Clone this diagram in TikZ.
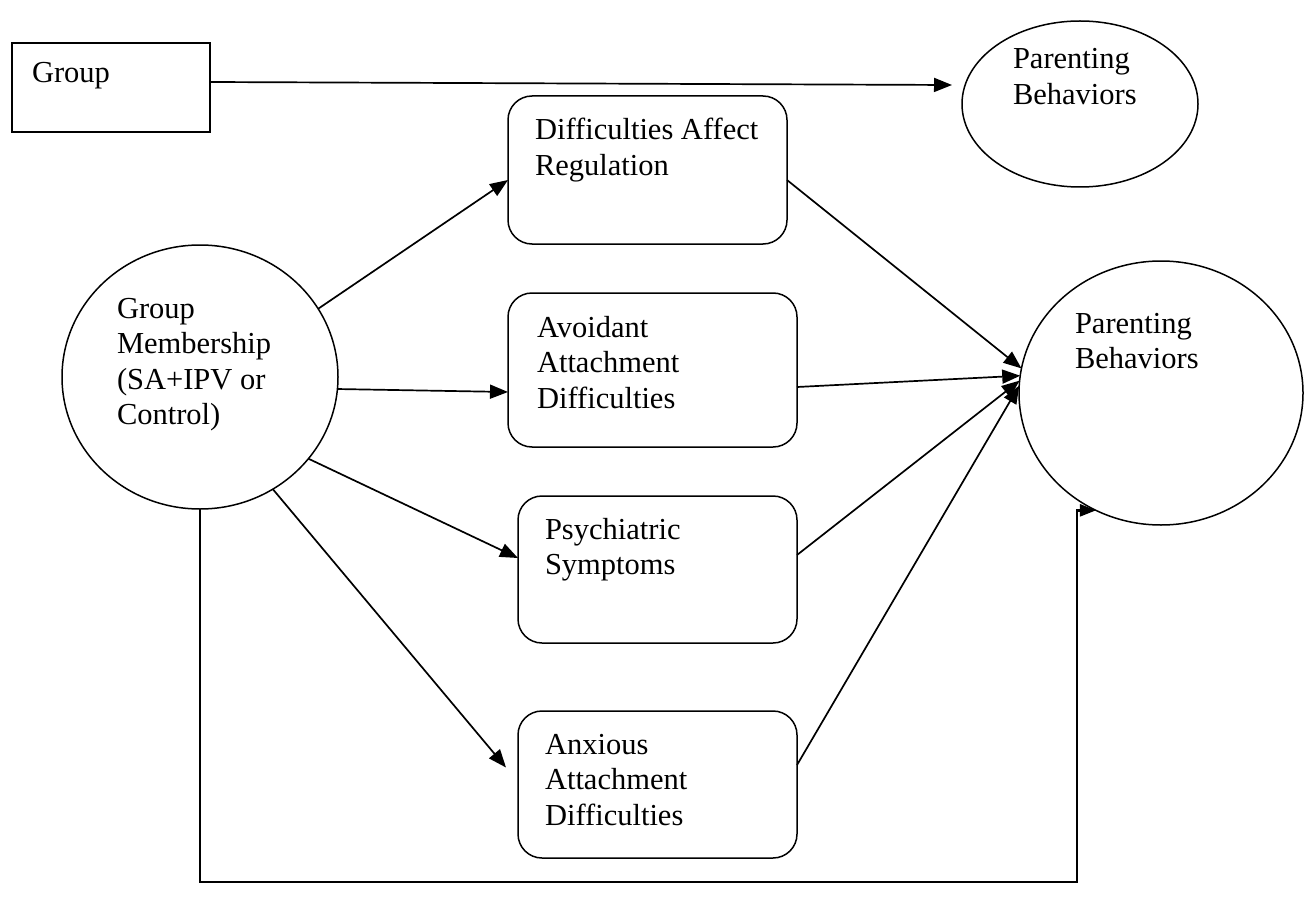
\documentclass[tikz,border=0pt]{standalone}
\usepackage{fontspec}
\setmainfont{Liberation Serif}
\usetikzlibrary{shapes.geometric,arrows.meta,calc}
\newcommand{\ml}[1]{\begin{tabular}[t]{@{}l@{}}#1\end{tabular}}
\begin{document}
\begin{tikzpicture}[x=1pt,y=-1pt,
  every node/.style={inner sep=0pt,outer sep=0pt},
  rbox/.style={draw,rectangle,rounded corners=24pt,line width=1.5pt},
  sqbox/.style={draw,rectangle,line width=2.4pt},
  oval/.style={draw,ellipse,line width=1.5pt},
  lbl/.style={anchor=base west,font=\fontsize{30.5}{35.5}\selectfont},
  arr/.style={line width=1.7pt,-{Triangle[length=18pt,width=14pt]}},
  botline/.style={line width=2.4pt,-{Triangle[length=16pt,width=12pt]}},
  ]
\useasboundingbox (0,0) rectangle (1311,912);

% shapes
\node[sqbox,minimum width=198pt,minimum height=89pt] (grp) at (111,87.5) {};
\node[oval,minimum width=236pt,minimum height=166pt] (pb1) at (1080,104) {};
\node[oval,minimum width=276pt,minimum height=264pt] (gm) at (200,377) {};
\node[oval,minimum width=284pt,minimum height=264pt] (pb2) at (1161,393) {};
\node[rbox,minimum width=279pt,minimum height=148pt] (dar) at (647.5,170) {};
\node[rbox,minimum width=289pt,minimum height=154pt] (avo) at (652.5,370) {};
\node[rbox,minimum width=279pt,minimum height=147pt] (psy) at (657.5,569.5) {};
\node[rbox,minimum width=279pt,minimum height=147pt] (anx) at (657.5,784.5) {};

% labels
\node[lbl] (grpt) at (32,83) {Group};
\node[lbl] (pb1t) at (1013,69) {\ml{Parenting\\Behaviors}};
\node[lbl] (gmt) at (117,318) {\ml{Group\\Membership\\(SA+IPV or\\Control)}};
\node[lbl] (pb2t) at (1075,333) {\ml{Parenting\\Behaviors}};
\node[lbl] (dart) at (535,140) {\ml{Difficulties Affect\\Regulation}};
\node[lbl] (avot) at (537,337) {\ml{Avoidant\\Attachment\\Difficulties}};
\node[lbl] (psyt) at (545,539) {\ml{Psychiatric\\Symptoms}};
\node[lbl] (anxt) at (545,754) {\ml{Anxious\\Attachment\\Difficulties}};

% connectors
\draw[arr] ([yshift=5.5pt]grp.east) -- ([xshift=-10pt,yshift=19pt]pb1.west);

\draw[arr] (gm.30) -- ([yshift=-10pt]dar.west);
\draw[arr] (gm.-5) -- ([yshift=-22pt]avo.west);
\draw[arr] (gm.-37) -- ([yshift=11.5pt]psy.west);
\draw[arr] (gm.-57) -- ([xshift=-12pt,yshift=17pt]anx.west);

\draw[arr] ([yshift=-10pt]dar.east) -- (pb2.170);
\draw[arr] ([yshift=-17pt]avo.east) -- (pb2.173);
\draw[arr] ([yshift=14.5pt]psy.east) -- (pb2.175);
\draw[arr] ([yshift=19.5pt]anx.east) -- (pb2.177);

\coordinate (bend) at (1077,882);
\draw[botline] (gm.south) |- (bend) |- (pb2.241);
\end{tikzpicture}
\end{document}
